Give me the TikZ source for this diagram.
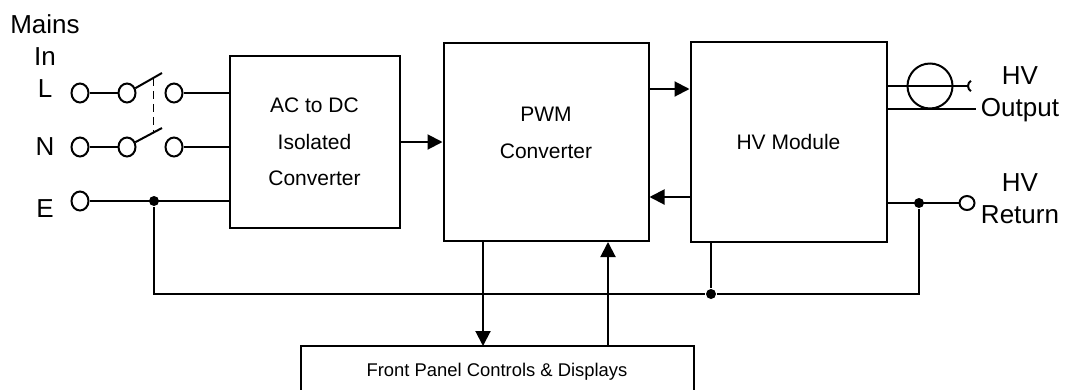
\documentclass[tikz,border=0pt]{standalone}
\usepackage{fontspec}
\setmainfont{Liberation Sans}
\usetikzlibrary{positioning,arrows.meta,shapes.geometric}
\tikzset{btext/.style={font=\fontsize{21}{36.5}\selectfont,align=center},
	 block/.style={rectangle,draw,inner sep=0pt,btext},
	 term/.style={ellipse,draw,fill=white,inner sep=0pt,minimum width=17pt,minimum height=19pt},
	 jdot/.style={circle,fill=black,inner sep=0pt,minimum size=10pt},
	 side/.style={font=\fontsize{26}{32}\selectfont,align=center,inner sep=0pt},
	 sig/.style={-{Triangle[length=15pt,width=15pt]}},
	 node distance = 40pt
	 }

\begin{document}
\begin{tikzpicture}[x=1pt,y=-1pt,line width=2pt] % HV supply block diagram
	\useasboundingbox (0,0) rectangle (1067,389);
	\node[block,minimum width=170pt,minimum height=172pt] (ac) at (314.5,142) {AC to DC\\Isolated\\Converter};
	\node[block,minimum width=205pt,minimum height=198pt] (pwm) [right=42pt of ac] [label={[btext,yshift=9pt]center:PWM\\Converter}] {};
	\node[block,minimum width=196pt,minimum height=200pt] (hv) [right=40pt of pwm] {HV Module};
	\node[inner sep=0pt,minimum width=391pt,minimum height=50pt,font=\fontsize{18.4}{22}\selectfont] (panel) at (497,372) {Front Panel Controls \& Displays};
	\draw (panel.south west) -- (panel.north west) -- (panel.north east) -- (panel.south east);
	\node[side] (mains) at (45,40) {Mains\\In};
	\node[side] (lname) at (45,89) {L};
	\node[side] (nname) at (45,147) {N};
	\node[side] (ename) at (45,209) {E};
	\node[term] (l1) at (80,93) {};
	\node[term] (l2) at (127,93) {};
	\node[term] (l3) at (174,93) {};
	\node[term] (n1) at (80,147) {};
	\node[term] (n2) at (127,147) {};
	\node[term] (n3) at (174,147) {};
	\node[term] (e1) at (80,201) {};
	\coordinate (lb) at (162,73); \coordinate (nb) at (162,128);
	\draw (l1) to (l2); \draw (l2.30) to coordinate[pos=0.68] (lk) (lb);
	\draw (n1) to (n2); \draw (n2.30) to coordinate[pos=0.68] (nk) (nb);
	\draw [dash pattern=on 8pt off 5pt,line width=1.8pt] (lk) to (nk);
	\draw (l3) to (l3 -| ac.west); \draw (n3) to (n3 -| ac.west); \draw (e1) to (e1 -| ac.west);
	\node[jdot] (je) at (154,201) {};
	\node[jdot] (jb) at (711,294) {};
	\node[jdot] (jr) at (919,203) {};
	\node[term,minimum width=15pt,minimum height=14pt] (ret) at (967,203) {};
	\draw (je) |- (jb) -| (jr); \draw (hv.south -| jb) to (jb);
	\draw (hv.east |- ret) to (ret);
	\node[circle,draw,inner sep=0pt,minimum size=45pt] (ct) at (930,86) {};
	\coordinate (oa) at (968,86); \coordinate (ob) at (976,109);
	\draw (hv.east |- oa) to (oa); \draw (hv.east |- ob) to (ob);
	\draw (oa) arc[start angle=180,end angle=120,radius=6pt] (oa) arc[start angle=180,end angle=240,radius=6pt];
	\node[side] (hvout) at (1020,94) {HV\\Output};
	\node[side] (hvret) at (1020,199) {HV\\Return};
	\draw [sig] (ac) to (pwm);
	\draw [sig] ([yshift=53pt]pwm.east) to ([yshift=53pt]hv.west);
	\draw [sig] ([yshift=-55pt]hv.west) to ([yshift=-55pt]pwm.east);
	\draw [sig] ([xshift=-63pt]pwm.south) to ([xshift=-63pt]pwm.south |- panel.north);
	\draw [sig] ([xshift=62pt]pwm.south |- panel.north) to ([xshift=62pt]pwm.south);
\end{tikzpicture}
\end{document}
